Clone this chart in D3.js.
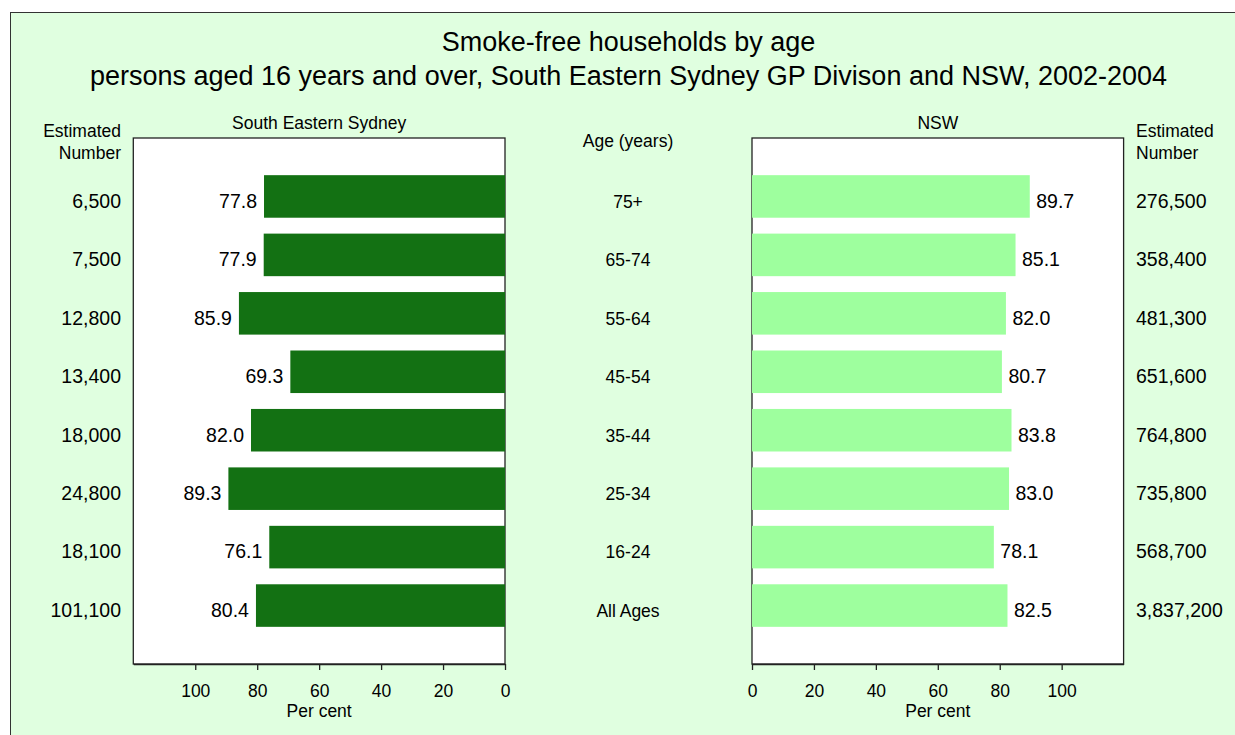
<!DOCTYPE html>
<html><head><meta charset="utf-8">
<script src="https://cdn.jsdelivr.net/npm/d3@7"></script>
<style>
html,body{margin:0;padding:0;background:#fff;}
text{font-family:"Liberation Sans",Arial,sans-serif;fill:#000;}
</style></head>
<body>
<svg id="chart" width="1235" height="735"></svg>
<script>
const ages = ["75+","65-74","55-64","45-54","35-44","25-34","16-24","All Ages"];
const sesValues = [77.8,77.9,85.9,69.3,82.0,89.3,76.1,80.4];
const nswValues = [89.7,85.1,82.0,80.7,83.8,83.0,78.1,82.5];
const sesNumbers = ["6,500","7,500","12,800","13,400","18,000","24,800","18,100","101,100"];
const nswNumbers = ["276,500","358,400","481,300","651,600","764,800","735,800","568,700","3,837,200"];
const xTicks = [0,20,40,60,80,100];
const titleLines = ["Smoke-free households by age","persons aged 16 years and over, South Eastern Sydney GP Divison and NSW, 2002-2004"];

(function(){
const svg = d3.select("#chart");
svg.append("rect").attr("x",0).attr("y",0).attr("width",1235).attr("height",735).attr("fill","#fff");
svg.append("rect").attr("x",10.5).attr("y",12.5).attr("width",1400).attr("height",900)
  .attr("fill","#e0ffe0").attr("stroke","#333").attr("stroke-width",1);

const plotTop = 138, plotBottom = 664;
const y = d3.scaleLinear().domain([0,9]).range([plotTop,plotBottom]);
const half = 0.364;
const xL = d3.scaleLinear().domain([0,120]).range([505,133.3]);
const xR = d3.scaleLinear().domain([0,120]).range([752,1123.6]);

const numFont = "19.5px", lblFont = "17.5px";

svg.selectAll(".title").data(titleLines).enter().append("text")
  .attr("x",628.5).attr("y",(d,i)=>51+i*33.5).attr("text-anchor","middle")
  .style("font-size","27px").text(d=>d);

function panel(x, values, color, labelSide, name){
  const [x0,x1] = x.range();
  const g = svg.append("g");
  g.append("rect").attr("x",Math.min(x0,x1)).attr("y",plotTop).attr("width",Math.abs(x1-x0)).attr("height",plotBottom-plotTop)
    .attr("fill","#fff").attr("stroke","#222").attr("stroke-width",1.3);
  g.selectAll(".bar").data(values).enter().append("rect")
    .attr("x",d=>Math.min(x(0),x(d))).attr("width",d=>Math.abs(x(d)-x(0)))
    .attr("y",(d,i)=>y(i+1-half)).attr("height",y(2*half)-y(0))
    .attr("fill",color);
  g.selectAll(".val").data(values).enter().append("text")
    .attr("x",d=>labelSide<0 ? x(d)-7 : x(d)+6.5)
    .attr("y",(d,i)=>y(i+1)+11.3)
    .attr("text-anchor",labelSide<0?"end":"start")
    .style("font-size",numFont).text(d=>d.toFixed(1));
  const axis = d3.axisBottom(x).tickValues(xTicks).tickSize(6).tickSizeOuter(0).tickPadding(15);
  const ag = g.append("g").attr("transform",`translate(0,${plotBottom})`).call(axis);
  ag.select(".domain").attr("stroke","#222").attr("stroke-width",1.3);
  ag.selectAll(".tick line").attr("stroke","#222").attr("stroke-width",1.3);
  ag.selectAll(".tick text").style("font-size",lblFont).style("font-family","Liberation Sans, Arial, sans-serif").attr("fill","#000");
  g.append("text").attr("x",x(60)).attr("y",716.5)
    .attr("text-anchor","middle").style("font-size",lblFont).text("Per cent");
  g.append("text").attr("x",(x0+x1)/2).attr("y",129).attr("text-anchor","middle")
    .style("font-size",lblFont).text(name);
}
panel(xL, sesValues, "#137113", -1, "South Eastern Sydney");
panel(xR, nswValues, "#9eff9e", 1, "NSW");

svg.append("text").attr("x",628).attr("y",146.5).attr("text-anchor","middle").style("font-size",lblFont).text("Age (years)");
svg.selectAll(".age").data(ages).enter().append("text")
  .attr("x",628).attr("y",(d,i)=>y(i+1)+11.3).attr("text-anchor","middle")
  .style("font-size",lblFont).text(d=>d);

svg.append("text").attr("x",121).attr("y",137).attr("text-anchor","end").style("font-size",lblFont).text("Estimated");
svg.append("text").attr("x",121).attr("y",158.5).attr("text-anchor","end").style("font-size",lblFont).text("Number");
svg.append("text").attr("x",1136).attr("y",137).attr("text-anchor","start").style("font-size",lblFont).text("Estimated");
svg.append("text").attr("x",1136).attr("y",158.5).attr("text-anchor","start").style("font-size",lblFont).text("Number");
svg.selectAll(".numL").data(sesNumbers).enter().append("text")
  .attr("x",121).attr("y",(d,i)=>y(i+1)+11.3).attr("text-anchor","end")
  .style("font-size",numFont).text(d=>d);
svg.selectAll(".numR").data(nswNumbers).enter().append("text")
  .attr("x",1136).attr("y",(d,i)=>y(i+1)+11.3).attr("text-anchor","start")
  .style("font-size",numFont).text(d=>d);
})();
</script>
</body></html>
